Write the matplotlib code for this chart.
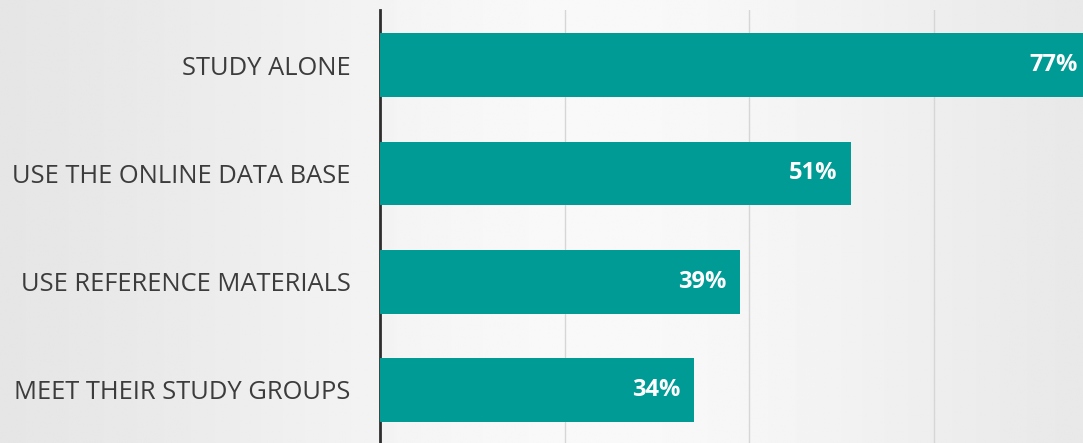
import numpy as np
import matplotlib.pyplot as plt

# data
categories = ["STUDY ALONE", "USE THE ONLINE DATA BASE", "USE REFERENCE MATERIALS", "MEET THEIR STUDY GROUPS"]
values = [77, 51, 39, 34]
labels = ["77%", "51%", "39%", "34%"]

teal = "#009b95"

fig = plt.figure(figsize=(10.83, 4.43), dpi=100)

# background gradient
bg = fig.add_axes([0, 0, 1, 1], zorder=0)
xs = np.linspace(0, 1, 400)
shade = 0.89 + 0.085 * np.exp(-((xs - 0.55) / 0.38) ** 2)
grad = np.tile(shade, (50, 1))
bg.imshow(grad, cmap="gray", vmin=0, vmax=1, aspect="auto", extent=[0, 1, 0, 1])
bg.axis("off")

ax = fig.add_axes([380 / 1083, 0, 1 - 380 / 1083, 1 - 10 / 443], zorder=1)
ax.patch.set_alpha(0)

y = np.arange(len(categories))
ax.barh(y, values, height=0.59, color=teal, zorder=3)

for yi, v, lab in zip(y, values, labels):
    ax.text(v - 1.4, yi, lab, ha="right", va="center", color="white",
            fontsize=17, fontweight="bold", family="Open Sans", zorder=4)

ax.set_xlim(0, 76.2)
ax.set_ylim(3.49, -0.51)

ax.set_xticks([20, 40, 60])
ax.xaxis.grid(True, color="#d6d6d6", linewidth=1, zorder=0)
ax.tick_params(axis="x", length=0, labelbottom=False)

ax.set_yticks(y)
ax.set_yticklabels(categories, fontsize=18.4, family="Open Sans", color="#3c3c3c")
ax.tick_params(axis="y", length=0, pad=21)

for s in ["top", "right", "bottom"]:
    ax.spines[s].set_visible(False)
ax.spines["left"].set_color("#2e2e2e")
ax.spines["left"].set_linewidth(2)

fig.savefig("out.png", dpi=100)
